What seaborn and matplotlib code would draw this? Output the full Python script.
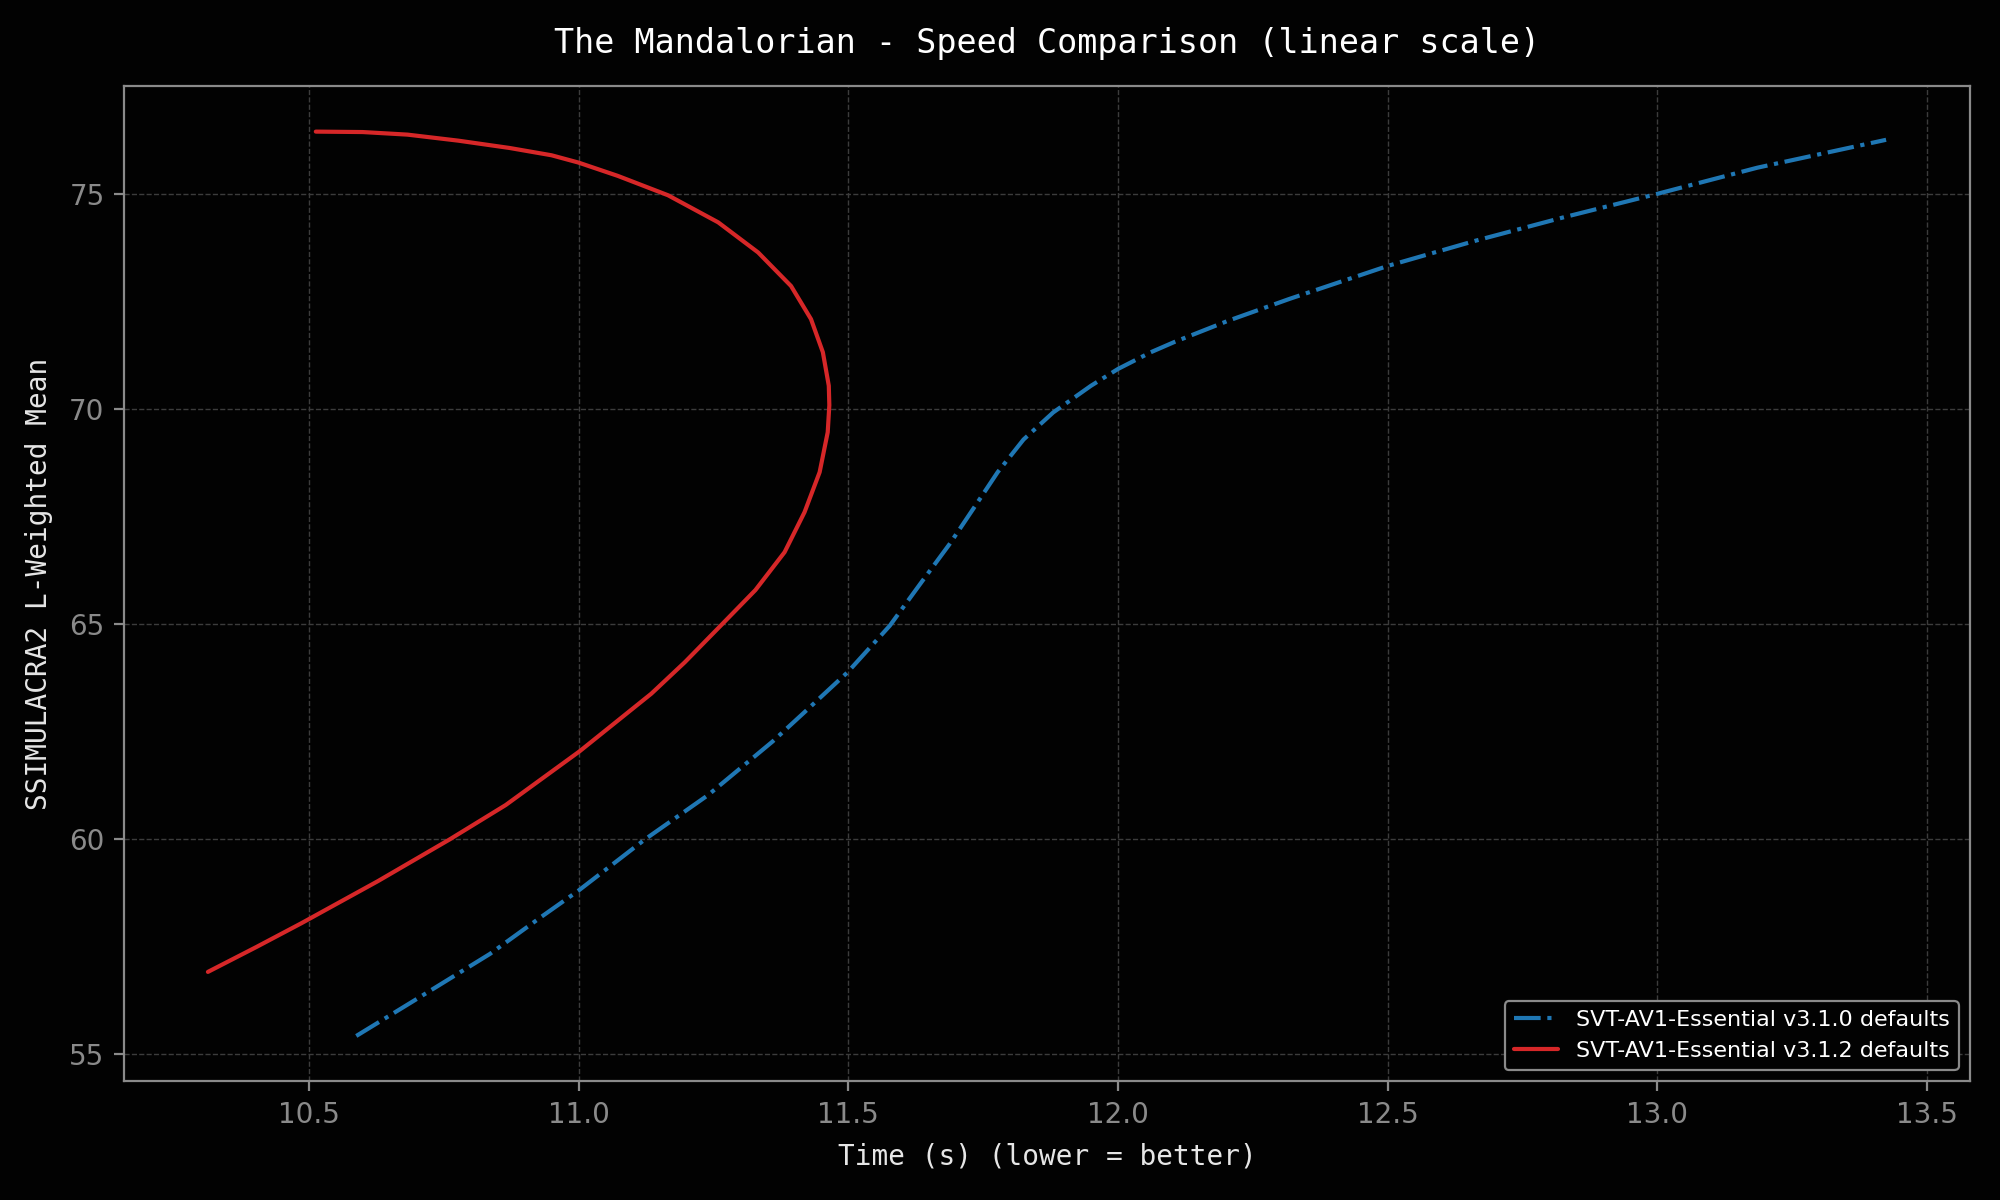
import matplotlib
matplotlib.use('Agg')
import matplotlib.pyplot as plt
import seaborn as sns
import pandas as pd

# ── Data ────────────────────────────────────────────────────
v310_time = [10.588, 10.704, 10.836, 10.931, 11.001, 11.123, 11.240, 11.360, 11.419,
             11.499, 11.577, 11.638, 11.688, 11.734, 11.777, 11.825, 11.880, 11.950,
             12.000, 12.061, 12.105, 12.204, 12.318, 12.501, 12.662, 12.824, 13.002,
             13.185, 13.424]
v310_score = [55.43, 56.32, 57.34, 58.20, 58.82, 60.00, 61.03, 62.28, 62.96,
              63.89, 64.97, 66.02, 66.87, 67.73, 68.54, 69.30, 69.93, 70.55,
              70.94, 71.33, 71.57, 72.06, 72.57, 73.34, 73.92, 74.46, 75.02,
              75.62, 76.27]

v312_time = [10.513, 10.600, 10.683, 10.777, 10.872, 10.950, 11.000, 11.073, 11.166,
             11.259, 11.333, 11.394, 11.431, 11.453, 11.464, 11.465, 11.462, 11.447,
             11.419, 11.382, 11.328, 11.265, 11.197, 11.135, 11.002, 10.865, 10.761,
             10.628, 10.486, 10.403, 10.313]
v312_score = [76.46, 76.45, 76.39, 76.25, 76.08, 75.91, 75.74, 75.43, 74.98,
              74.35, 73.65, 72.87, 72.10, 71.33, 70.55, 70.10, 69.47, 68.54,
              67.61, 66.68, 65.80, 64.99, 64.12, 63.39, 62.05, 60.80, 60.00,
              59.03, 58.05, 57.50, 56.92]

labels = ['SVT-AV1-Essential v3.1.0 defaults', 'SVT-AV1-Essential v3.1.2 defaults']

# ── Palette ──────────────────────────────────────────────────
BG      = '#020202'
TEXT    = '#e6e6e6'
TICK    = '#8a8a8a'
SPINE   = '#8a8a8a'
GRID    = '#3c3c3c'
BLUE    = '#1f77b4'
RED     = '#d62728'

sns.set_style('dark')
plt.rcParams['font.family'] = ['DejaVu Sans']

fig, ax = plt.subplots(figsize=(10, 6), dpi=200, facecolor=BG)
ax.set_facecolor(BG)
fig.subplots_adjust(left=0.062, right=0.985, top=0.928, bottom=0.099)

df_a = pd.DataFrame({'t': v310_time, 's': v310_score})
df_b = pd.DataFrame({'t': v312_time, 's': v312_score})

sns.lineplot(data=df_a, x='t', y='s', sort=False, estimator=None, ax=ax,
             color=BLUE, linestyle='-.', linewidth=1.5, label=labels[0])
sns.lineplot(data=df_b, x='t', y='s', sort=False, estimator=None, ax=ax,
             color=RED, linewidth=1.5, label=labels[1])

ax.set_title('The Mandalorian - Speed Comparison (linear scale)',
             fontsize=12, color='white', family='DejaVu Sans Mono', pad=12)
ax.set_xlabel('Time (s) (lower = better)', fontsize=10, color=TEXT,
              family='DejaVu Sans Mono', labelpad=5)
ax.set_ylabel('SSIMULACRA2 L-Weighted Mean', fontsize=10, color=TEXT,
              family='DejaVu Sans Mono', labelpad=6)

ax.tick_params(colors=TICK, labelsize=10, length=3.5, width=0.8, bottom=True, left=True)
for spine in ax.spines.values():
    spine.set_edgecolor(SPINE)
    spine.set_linewidth(0.8)
ax.grid(True, color=GRID, linestyle='--', linewidth=0.5)

leg = ax.legend(loc='lower right', fontsize=8, facecolor=BG, edgecolor=SPINE,
                labelcolor='white', framealpha=1)
leg.get_frame().set_linewidth(0.8)

fig.savefig('out.png', dpi=200, facecolor=BG)
